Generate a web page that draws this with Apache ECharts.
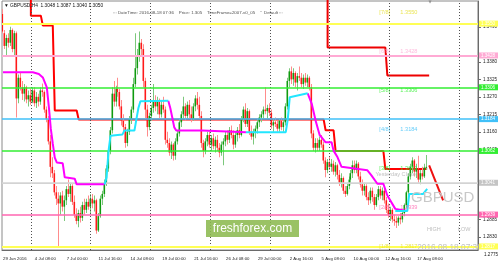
<!DOCTYPE html>
<html><head><meta charset="utf-8">
<script src="https://cdn.jsdelivr.net/npm/echarts/dist/echarts.min.js"></script>
<style>html,body{margin:0;padding:0;background:#fff}#c{width:500px;height:268px}</style>
</head><body><div id="c"></div>
<script>
// ---- candle data (H4 bars, 29 Jun 16:00 .. 18 Aug 04:00) ----
const opens = [1.3530,1.3470,1.3430,1.3455,1.3440,1.3480,1.3420,1.3470,1.3265,1.3330,1.3300,1.3280,1.3300,1.3262,1.3275,1.3255,1.3290,1.3250,1.3270,1.3255,1.3290,1.3285,1.3230,1.3200,1.3130,1.3050,1.3030,1.2970,1.2950,1.2935,1.2960,1.2925,1.2945,1.2980,1.2965,1.2990,1.2940,1.2900,1.2880,1.2905,1.2890,1.2930,1.2915,1.2940,1.2925,1.2950,1.2935,1.2945,1.2850,1.2895,1.2950,1.2965,1.3000,1.3045,1.3100,1.3165,1.3280,1.3255,1.3295,1.3285,1.3240,1.3195,1.3175,1.3125,1.3160,1.3200,1.3230,1.3310,1.3360,1.3400,1.3440,1.3420,1.3320,1.3230,1.3175,1.3210,1.3235,1.3255,1.3240,1.3255,1.3215,1.3245,1.3230,1.3135,1.3125,1.3095,1.3120,1.3085,1.3130,1.3155,1.3190,1.3215,1.3240,1.3210,1.3245,1.3215,1.3200,1.3240,1.3265,1.3245,1.3210,1.3125,1.3100,1.3130,1.3150,1.3120,1.3140,1.3115,1.3135,1.3110,1.3095,1.3120,1.3130,1.3150,1.3135,1.3165,1.3150,1.3120,1.3150,1.3165,1.3150,1.3200,1.3230,1.3185,1.3225,1.3160,1.3145,1.3160,1.3170,1.3190,1.3205,1.3215,1.3230,1.3225,1.3235,1.3220,1.3180,1.3190,1.3185,1.3170,1.3195,1.3175,1.3190,1.3240,1.3320,1.3350,1.3325,1.3345,1.3315,1.3335,1.3330,1.3310,1.3330,1.3315,1.3330,1.3300,1.3155,1.3110,1.3125,1.3110,1.3135,1.3120,1.3070,1.3040,1.3065,1.3050,1.3060,1.3035,1.3055,1.3025,1.3000,1.3015,1.2975,1.2965,1.2990,1.3010,1.3030,1.3055,1.3040,1.3060,1.3020,1.2995,1.2975,1.2990,1.2955,1.2945,1.2975,1.2955,1.2930,1.2955,1.2980,1.2960,1.2975,1.2945,1.2915,1.2900,1.2915,1.2885,1.2880,1.2875,1.2890,1.2885,1.2905,1.2930,1.2970,1.3020,1.3050,1.3070,1.3035,1.3045,1.3010,1.3030,1.3020,1.3048];
const highs = [1.3545,1.3480,1.3465,1.3470,1.3490,1.3485,1.3478,1.3475,1.3340,1.3345,1.3320,1.3310,1.3305,1.3290,1.3295,1.3300,1.3300,1.3285,1.3280,1.3300,1.3312,1.3290,1.3240,1.3210,1.3150,1.3080,1.3040,1.2990,1.2970,1.2970,1.2975,1.2960,1.2990,1.3010,1.3000,1.2995,1.2960,1.2920,1.2915,1.2925,1.2940,1.2950,1.2950,1.2960,1.2965,1.2965,1.2960,1.2950,1.2905,1.2960,1.2975,1.3010,1.3055,1.3110,1.3175,1.3300,1.3320,1.3305,1.3330,1.3295,1.3260,1.3215,1.3185,1.3170,1.3210,1.3240,1.3330,1.3470,1.3420,1.3475,1.3452,1.3435,1.3330,1.3245,1.3220,1.3245,1.3310,1.3275,1.3270,1.3265,1.3260,1.3270,1.3240,1.3160,1.3140,1.3130,1.3125,1.3140,1.3165,1.3200,1.3225,1.3270,1.3250,1.3255,1.3260,1.3240,1.3250,1.3275,1.3285,1.3270,1.3225,1.3135,1.3140,1.3160,1.3160,1.3150,1.3155,1.3145,1.3150,1.3125,1.3130,1.3140,1.3160,1.3165,1.3175,1.3180,1.3165,1.3160,1.3175,1.3185,1.3210,1.3240,1.3250,1.3235,1.3230,1.3180,1.3170,1.3180,1.3200,1.3215,1.3225,1.3240,1.3300,1.3245,1.3250,1.3230,1.3200,1.3205,1.3195,1.3200,1.3205,1.3200,1.3250,1.3330,1.3360,1.3365,1.3360,1.3350,1.3345,1.3365,1.3345,1.3340,1.3345,1.3340,1.3335,1.3310,1.3165,1.3140,1.3140,1.3145,1.3150,1.3130,1.3080,1.3075,1.3080,1.3075,1.3070,1.3065,1.3060,1.3040,1.3030,1.3020,1.2990,1.3000,1.3020,1.3040,1.3070,1.3070,1.3070,1.3065,1.3035,1.3010,1.3000,1.2995,1.2970,1.2985,1.2985,1.2965,1.2965,1.2990,1.2990,1.2985,1.2985,1.2955,1.2935,1.2925,1.2920,1.2900,1.2895,1.2895,1.2905,1.2910,1.2935,1.2975,1.3030,1.3060,1.3080,1.3075,1.3060,1.3085,1.3040,1.3050,1.3060,1.3087];
const lows = [1.3470,1.3420,1.3400,1.3425,1.3430,1.3410,1.3395,1.3205,1.3250,1.3290,1.3260,1.3255,1.3250,1.3240,1.3245,1.3250,1.3240,1.3235,1.3240,1.3245,1.3270,1.3220,1.3190,1.3120,1.3017,1.3015,1.2960,1.2930,1.2795,1.2900,1.2910,1.2880,1.2930,1.2955,1.2940,1.2930,1.2890,1.2870,1.2860,1.2875,1.2880,1.2900,1.2905,1.2915,1.2900,1.2920,1.2910,1.2840,1.2845,1.2890,1.2930,1.2955,1.2990,1.3035,1.3090,1.3155,1.3240,1.3240,1.3270,1.3230,1.3180,1.3160,1.3110,1.3115,1.3150,1.3185,1.3220,1.3300,1.3340,1.3380,1.3400,1.3300,1.3200,1.3145,1.3165,1.3195,1.3220,1.3225,1.3215,1.3200,1.3205,1.3220,1.3120,1.3110,1.3085,1.3075,1.3070,1.3072,1.3120,1.3145,1.3175,1.3200,1.3195,1.3200,1.3200,1.3190,1.3195,1.3225,1.3230,1.3200,1.3110,1.3080,1.3090,1.3115,1.3110,1.3100,1.3105,1.3095,1.3100,1.3080,1.3085,1.3055,1.3115,1.3120,1.3125,1.3140,1.3105,1.3110,1.3130,1.3140,1.3145,1.3190,1.3175,1.3175,1.3150,1.3135,1.3120,1.3140,1.3155,1.3175,1.3190,1.3200,1.3215,1.3200,1.3210,1.3170,1.3160,1.3175,1.3160,1.3160,1.3165,1.3160,1.3180,1.3230,1.3300,1.3310,1.3305,1.3300,1.3290,1.3320,1.3300,1.3295,1.3305,1.3300,1.3290,1.3140,1.3100,1.3095,1.3100,1.3100,1.3110,1.3060,1.3017,1.3030,1.3040,1.3035,1.3025,1.3020,1.3010,1.2990,1.2985,1.2965,1.2955,1.2960,1.2980,1.2995,1.3015,1.3030,1.3030,1.3010,1.2985,1.2960,1.2960,1.2945,1.2930,1.2935,1.2940,1.2915,1.2925,1.2945,1.2950,1.2945,1.2935,1.2905,1.2890,1.2880,1.2875,1.2865,1.2858,1.2865,1.2870,1.2875,1.2895,1.2920,1.2960,1.3010,1.3030,1.3020,1.3015,1.3000,1.2995,1.3010,1.3015,1.3040];
const closes = [1.3475,1.3430,1.3455,1.3440,1.3480,1.3420,1.3470,1.3265,1.3330,1.3300,1.3280,1.3300,1.3262,1.3275,1.3255,1.3290,1.3250,1.3270,1.3255,1.3290,1.3285,1.3230,1.3200,1.3130,1.3050,1.3030,1.2970,1.2950,1.2935,1.2960,1.2925,1.2945,1.2980,1.2965,1.2990,1.2940,1.2900,1.2880,1.2905,1.2890,1.2930,1.2915,1.2940,1.2925,1.2950,1.2935,1.2945,1.2850,1.2895,1.2950,1.2965,1.3000,1.3045,1.3100,1.3165,1.3280,1.3255,1.3295,1.3285,1.3240,1.3195,1.3175,1.3125,1.3160,1.3200,1.3230,1.3310,1.3360,1.3400,1.3440,1.3420,1.3320,1.3230,1.3175,1.3210,1.3235,1.3255,1.3240,1.3255,1.3215,1.3245,1.3230,1.3135,1.3125,1.3095,1.3120,1.3085,1.3130,1.3155,1.3190,1.3215,1.3240,1.3210,1.3245,1.3215,1.3200,1.3240,1.3265,1.3245,1.3210,1.3125,1.3100,1.3130,1.3150,1.3120,1.3140,1.3115,1.3135,1.3110,1.3095,1.3120,1.3130,1.3150,1.3135,1.3165,1.3150,1.3120,1.3150,1.3165,1.3150,1.3200,1.3230,1.3185,1.3225,1.3160,1.3145,1.3160,1.3170,1.3190,1.3205,1.3215,1.3230,1.3225,1.3235,1.3220,1.3180,1.3190,1.3185,1.3170,1.3195,1.3175,1.3190,1.3240,1.3320,1.3350,1.3325,1.3345,1.3315,1.3335,1.3330,1.3310,1.3330,1.3315,1.3330,1.3300,1.3155,1.3110,1.3125,1.3110,1.3135,1.3120,1.3070,1.3040,1.3065,1.3050,1.3060,1.3035,1.3055,1.3025,1.3000,1.3015,1.2975,1.2965,1.2990,1.3010,1.3030,1.3055,1.3040,1.3060,1.3020,1.2995,1.2975,1.2990,1.2955,1.2945,1.2975,1.2955,1.2930,1.2955,1.2980,1.2960,1.2975,1.2945,1.2915,1.2900,1.2915,1.2885,1.2880,1.2875,1.2890,1.2885,1.2905,1.2930,1.2970,1.3020,1.3050,1.3070,1.3035,1.3045,1.3010,1.3030,1.3020,1.3048,1.3050];

// ---- indicator lines: [bar index, price] break points ----
const magentaA = [[0,1.3347],[15,1.3347],[18,1.3342],[20,1.3331],[22,1.3300],[23,1.3240],[24,1.3170],[25,1.3123],[26,1.3079],[27,1.3064],[30,1.3061],[31,1.3017],[36,1.3013],[37,1.2995],[51,1.2995]];
const cyanA = [[51,1.2995],[52,1.3017],[53,1.3100],[54,1.3148],[60,1.3152],[61,1.3164],[66,1.3164],[67,1.3200],[68,1.3235],[69,1.3256],[83,1.3258]];
const magentaB = [[83,1.3258],[84,1.3235],[85,1.3205],[86,1.3174],[87,1.3164],[100,1.3164],[101,1.3159],[122,1.3159]];
const cyanB = [[122,1.3159],[142,1.3159],[143,1.3200],[144,1.3269],[145,1.3274],[153,1.3281]];
const magentaC = [[153,1.3281],[155,1.3249],[157,1.3195],[159,1.3150],[160,1.3143],[162,1.3127],[165,1.3127],[166,1.3101],[168,1.3080],[170,1.3050],[171,1.3044],[183,1.3039],[185,1.3023],[188,1.2997],[191,1.2997],[193,1.2960],[197,1.2918],[203,1.2911]];
const cyanC = [[197,1.2911],[203,1.2911],[204,1.2965],[211,1.2965],[213,1.2981]];
const redMain = [[14,1.3600],[14,1.3525],[19,1.3525],[20,1.3494],[25,1.3494],[26,1.3227],[37,1.3227],[38,1.3199],[161,1.3199],[162,1.3165],[166,1.3165],[167,1.3100],[191,1.3100],[192,1.3043],[213,1.3043]];
const redTop = [[163,1.3600],[163,1.3425],[192,1.3425],[193,1.3337],[214,1.3337]];
const redProjection = [[214,1.3055],[221,1.2945]];

// ---- Murray levels ----
const levelNames = ['[7/8]','[6/8]','[5/8]','[4/8]','[3/8]','[2/8]','[1/8]'];
const levelValues = [1.3550,1.3428,1.3306,1.3184,1.3062,1.2939,1.2817];
const levelColors = ['#ffff55','#ffaad4','#33ee33','#40c0f8','#33ee33','#ff66b0','#ffff55'];
const levelWidths = [2,2,1.5,1.5,1.5,1.5,2];
const yesterdayClose = 1.3041;
const bidPrice = 1.3050;

// ---- axes ----
const slotCount = 239;
const xLabelIdx = [0,16,32,48,64,80,96,112,128,144,160,176,192,208];
const xLabels = ['29 Jun 2016','4 Jul 08:00','7 Jul 00:00','11 Jul 16:00','14 Jul 08:00','19 Jul 00:00','21 Jul 16:00','26 Jul 08:00','29 Jul 00:00','2 Aug 16:00','5 Aug 08:00','10 Aug 00:00','12 Aug 16:00','17 Aug 08:00'];
const weekLines = [14,44,74,104,134,164,194,229];
const yTicks = [1.3490,1.3380,1.3325,1.3270,1.3215,1.3160,1.3105,1.2996,1.2885,1.2830];
const yTickBelow = 1.2775;
const stampText = '2016.08.18 07:36';

const FONT = 'Liberation Sans';
const cats = Array.from({length: slotCount}, (_, i) => String(i));
const candleData = closes.map((c, i) => [i, opens[i], c, lows[i], highs[i]]);

function lineSeries(data, color, z) {
  return {type:'line', data, showSymbol:false, symbol:'none', clip:true, z: z || 4,
    lineStyle:{color, width:2}, itemStyle:{color}, silent:true};
}
function axisTag(v, bg) {
  return {show:true, position:'end', distance:1, formatter:v.toFixed(4), color:'#ffffff',
    backgroundColor:bg, padding:[0.5,3,0.5,2], fontSize:4.6, fontFamily:FONT};
}

const chart = echarts.init(document.getElementById('c'), null, {renderer:'canvas'});
chart.setOption({
  animation:false,
  backgroundColor:'#ffffff',
  grid:{left:2, right:21, top:1, bottom:18, show:true, borderColor:'#8a8a8a', borderWidth:1},
  xAxis:{type:'category', data:cats, boundaryGap:true,
    axisLine:{lineStyle:{color:'#6a6a6a'}},
    axisTick:{alignWithLabel:true, interval:(i)=>xLabelIdx.includes(i), length:2, lineStyle:{color:'#6a6a6a'}},
    axisLabel:{interval:(i)=>xLabelIdx.includes(i), formatter:(v)=>xLabels[xLabelIdx.indexOf(Number(v))] || '',
      align:'left', fontSize:4.3, color:'#202020', margin:7, fontFamily:FONT},
    splitLine:{show:false}},
  yAxis:{type:'value', position:'right', min:1.27888, max:1.35711, scale:true,
    splitLine:{show:false},
    axisLine:{show:true, lineStyle:{color:'#6a6a6a'}},
    axisTick:{show:true, customValues:yTicks, length:3, lineStyle:{color:'#6a6a6a'}},
    axisLabel:{customValues:yTicks, formatter:(v)=>v.toFixed(4), fontSize:4.6, color:'#202020', margin:5, fontFamily:FONT}},
  series:[
    {type:'line', data:[], silent:true, z:1,
      markLine:{silent:true, symbol:['none','none'], animation:false,
        data: weekLines.map(i => ({xAxis:i, lineStyle:{color:'#505050', width:1, type:[1,2]}, label:{show:false}}))}},
    {type:'line', data:[], silent:true, z:2,
      markLine:{silent:true, symbol:['none','none'], animation:false,
        data: levelValues.map((v, k) => ({yAxis:v,
          lineStyle:{color:levelColors[k], width:levelWidths[k], type:'solid'}, label:axisTag(v, levelColors[k])}))
          .concat([
            {yAxis:bidPrice, lineStyle:{color:'#cdcdcd', width:1, type:'solid'}, label:{show:false}},
            {yAxis:yesterdayClose, lineStyle:{color:'#d4d4d4', width:1.5, type:'solid'}, label:axisTag(yesterdayClose, '#c4c4c4')}])}},
    {type:'scatter', symbolSize:0, silent:true, z:5,
      data: levelValues.map((v, k) => ({value:[189, v], label:{color:levelColors[k] === '#ffff55' ? '#e6e030' : levelColors[k]}}))
        .concat([{value:[187, yesterdayClose], label:{color:'#b0b0b0'}, name:'yc'}]),
      label:{show:true, position:'right', distance:0, offset:[0,5], fontSize:5.6, fontFamily:FONT,
        formatter:(p)=> p.name === 'yc' ? 'Yesterday Close' : '{a|' + levelNames[p.dataIndex] + '}' + levelValues[p.dataIndex].toFixed(4),
        rich:{a:{width:21, fontSize:5.6, fontFamily:FONT}}}},
    lineSeries(redMain, '#ff0000', 3),
    lineSeries(redTop, '#ee0000', 3),
    lineSeries(redProjection, '#ee1111', 3),
    {type:'custom', data:candleData, clip:true, z:4, silent:true,
      encode:{x:0, y:[1,2,3,4]},
      renderItem:(params, api) => {
        const i = api.value(0), o = api.value(1), c = api.value(2), l = api.value(3), h = api.value(4);
        const po = api.coord([i, o]), pc = api.coord([i, c]), pl = api.coord([i, l]), ph = api.coord([i, h]);
        const up = c >= o;
        const x = Math.round(po[0]) - 1;
        const top = Math.min(po[1], pc[1]);
        const hgt = Math.max(1, Math.abs(po[1] - pc[1]));
        return {type:'group', children:[
          {type:'rect', shape:{x:x, y:ph[1], width:1, height:Math.max(1, pl[1]-ph[1])}, style:{fill: up ? '#7cc87c' : '#ff8c8c'}},
          {type:'rect', shape:{x:x-0.5, y:top, width:1.6, height:hgt}, style:{fill: up ? '#0f9a0f' : '#ff1a1a'}}
        ]};
      }},
    lineSeries(magentaA, '#ff00ff', 5),
    lineSeries(magentaB, '#ff00ff', 5),
    lineSeries(magentaC, '#ff00ff', 5),
    lineSeries(cyanA, '#22e6ff', 5),
    lineSeries(cyanB, '#22e6ff', 5),
    lineSeries(cyanC, '#22e6ff', 5),
    {type:'custom', clip:true, z:6, silent:true, data:[[208, 1.2797]], encode:{x:0, y:1},
      renderItem:(params, api) => {
        const pt = api.coord([api.value(0), api.value(1)]);
        return {type:'text', x:pt[0], y:pt[1], style:{text:stampText, fill:'#c4c4c4', font:'8.3px "Liberation Sans"', textVerticalAlign:'middle'}};
      }}
  ]
});

const last = closes.length - 1;
const belowY = chart.convertToPixel({yAxisIndex:0}, yTickBelow);
chart.setOption({graphic:[
  {type:'text', x:4, y:3.5, z:20, style:{text:'▼ GBPUSD,H4  ' + opens[last].toFixed(4) + ' ' + highs[last].toFixed(4) + ' ' + lows[last].toFixed(4) + ' ' + closes[last].toFixed(4), fill:'#101010', font:'4.8px "Liberation Sans"'}},
  {type:'text', x:113, y:11, z:20, style:{text:'::: DateTime: 2016-08-18 07:36    Price: 1.305    TimeFrame=2007-v0_05    "  Default :::', fill:'#505050', font:'4.4px "Liberation Sans"'}},
  {type:'text', x:428.5, y:0, z:20, style:{text:'▼', fill:'#909090', font:'4px "DejaVu Sans"'}},
  {type:'text', x:411, y:190, z:20, style:{text:'GBPUSD', fill:'#c8c8c8', font:'15px "Liberation Sans"'}},
  {type:'text', x:427, y:226, z:20, style:{text:'HIGH', fill:'#bdbdbd', font:'5.5px "Liberation Sans"'}},
  {type:'text', x:458, y:226, z:20, style:{text:'LOW', fill:'#bdbdbd', font:'5.5px "Liberation Sans"'}},
  {type:'rect', x:206, y:220, z:20, shape:{width:93, height:17}, style:{fill:'rgba(140,186,80,0.88)'}},
  {type:'text', x:252.5, y:228.5, z:21, style:{text:'freshforex.com', fill:'#ffffff', font:'12px "Liberation Sans"', textAlign:'center', textVerticalAlign:'middle'}},
  {type:'text', x:484, y:belowY - 2.5, z:20, style:{text:yTickBelow.toFixed(4), fill:'#202020', font:'4.6px "Liberation Sans"'}}
]});
</script></body></html>
